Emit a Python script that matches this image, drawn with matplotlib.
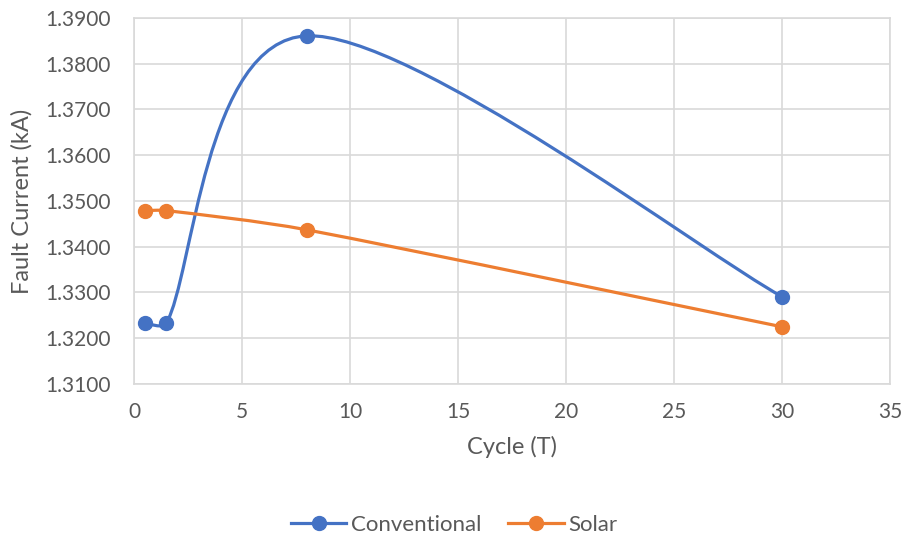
import numpy as np
import matplotlib
matplotlib.use("Agg")
import matplotlib.pyplot as plt
from matplotlib.path import Path
from matplotlib.patches import PathPatch
from matplotlib.lines import Line2D

cycles = [0.5, 1.5, 8, 30]
conventional = [1.3233, 1.3233, 1.3861, 1.3291]
solar = [1.3479, 1.3479, 1.3437, 1.3225]

BLUE = "#4472C4"
ORANGE = "#ED7D31"
GRID = "#D9D9D9"
TXT = "#595959"

plt.rcParams["font.family"] = ["Lato", "DejaVu Sans"]

fig = plt.figure(figsize=(9.04, 5.37), dpi=100)
ax = fig.add_axes([134 / 904, 1 - 384 / 537, 756 / 904, 366 / 537])
xlim, ylim = (0, 35), (1.31, 1.39)
ax.set_xlim(*xlim)
ax.set_ylim(*ylim)


def smooth_path(xs, ys, clamp=1 / 3):
    """Excel-like smoothed line: Catmull-Rom bezier in pixel space, handles clamped."""
    sx = 756 / (xlim[1] - xlim[0])
    sy = 366 / (ylim[1] - ylim[0])
    p = np.column_stack([np.asarray(xs) * sx, np.asarray(ys) * sy])
    n = len(p)
    verts = [p[0]]
    codes = [Path.MOVETO]
    for i in range(n - 1):
        p0 = p[max(i - 1, 0)]
        p1, p2 = p[i], p[i + 1]
        p3 = p[min(i + 2, n - 1)]
        seg = np.linalg.norm(p2 - p1)
        t1 = (p2 - p0) / 6
        t2 = (p3 - p1) / 6
        for t in (t1, t2):
            ln = np.linalg.norm(t)
            if ln > clamp * seg and ln > 0:
                t *= clamp * seg / ln
        verts += [p1 + t1, p2 - t2, p2]
        codes += [Path.CURVE4] * 3
    v = np.array(verts)
    v[:, 0] /= sx
    v[:, 1] /= sy
    return Path(v, codes)


for ys, col in [(conventional, BLUE), (solar, ORANGE)]:
    ax.add_patch(PathPatch(smooth_path(cycles, ys), facecolor="none",
                           edgecolor=col, lw=2.3, capstyle="round", zorder=3))
    ax.plot(cycles, ys, "o", color=col, ms=10, zorder=4, clip_on=False)

ax.set_xticks(np.arange(0, 36, 5))
ax.set_yticks(np.arange(1.31, 1.3901, 0.01))
ax.set_yticklabels([f"{v:.4f}" for v in np.arange(1.31, 1.3901, 0.01)])
ax.grid(True, color=GRID, lw=1.2)
ax.set_axisbelow(True)
for s in ax.spines.values():
    s.set_color(GRID)
    s.set_linewidth(1.2)
ax.tick_params(length=0, labelsize=15, labelcolor=TXT)
ax.tick_params(axis="x", pad=13)
ax.tick_params(axis="y", pad=17)
ax.set_xlabel("Cycle (T)", fontsize=17, color=TXT, labelpad=10)
ax.set_ylabel("Fault Current (kA)", fontsize=17, color=TXT, labelpad=10)
ax.yaxis.set_label_coords(-101 / 756, 0.5)

handles = [Line2D([], [], color=BLUE, lw=2.3, marker="o", ms=10),
           Line2D([], [], color=ORANGE, lw=2.3, marker="o", ms=10)]
leg = fig.legend(handles, ["Conventional", "Solar"], loc="center",
                 bbox_to_anchor=(454 / 904, 1 - 525 / 537), ncol=2, frameon=False,
                 fontsize=16, handlelength=2.5, columnspacing=1.2, handletextpad=0.2)
for t in leg.get_texts():
    t.set_color(TXT)

fig.savefig("out.png", dpi=100)
